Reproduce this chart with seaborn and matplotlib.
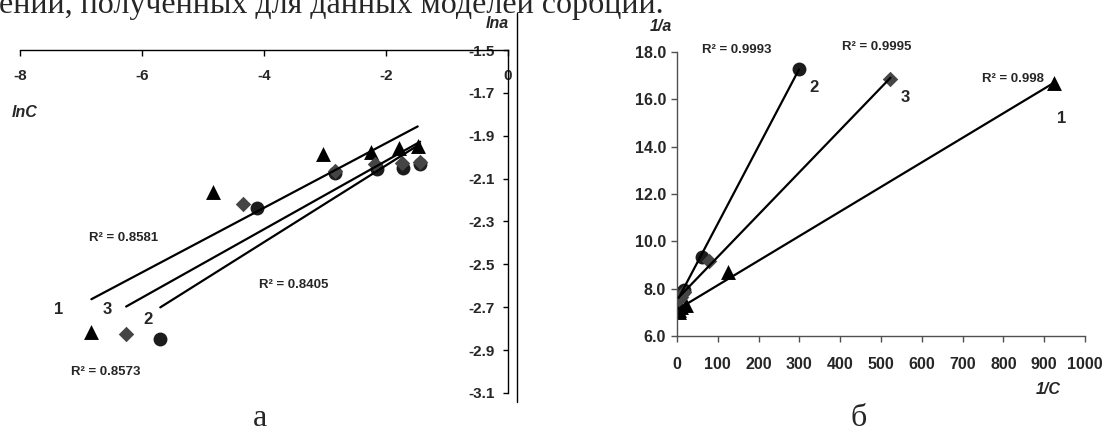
import numpy as np
import pandas as pd
import matplotlib
matplotlib.use("Agg")
import matplotlib.pyplot as plt
from matplotlib.lines import Line2D
import seaborn as sns

# Sorption data for three sorbents (series 1, 2, 3): ln C and ln a
series_ids = ["1", "2", "3"]
ln_c_s1 = [-6.83, -4.83, -3.04, -2.24, -1.79, -1.48]
ln_a_s1 = [-2.814, -2.162, -1.987, -1.975, -1.959, -1.949]
ln_c_s2 = [-5.70, -4.12, -2.84, -2.14, -1.72, -1.44]
ln_a_s2 = [-2.850, -2.236, -2.074, -2.055, -2.050, -2.032]
ln_c_s3 = [-6.26, -4.35, -2.84, -2.18, -1.74, -1.44]
ln_a_s3 = [-2.826, -2.218, -2.064, -2.032, -2.027, -2.022]

# Coefficients of determination of the trend lines
r2_freundlich = {"1": "0.8581", "2": "0.8405", "3": "0.8573"}
r2_langmuir = {"1": "0.998", "2": "0.9993", "3": "0.9995"}

# Axis ticks
left_xticks = [-8, -6, -4, -2, 0]
left_yticks = [-1.5, -1.7, -1.9, -2.1, -2.3, -2.5, -2.7, -2.9, -3.1]
right_xticks = [0, 100, 200, 300, 400, 500, 600, 700, 800, 900, 1000]
right_yticks = [6.0, 8.0, 10.0, 12.0, 14.0, 16.0, 18.0]

header_text = "ений, полученных для данных моделей сорбции."

frames = []
for sid, lc, la in zip(series_ids, [ln_c_s1, ln_c_s2, ln_c_s3],
                       [ln_a_s1, ln_a_s2, ln_a_s3]):
    frames.append(pd.DataFrame({"series": sid, "lnC": lc, "lna": la}))
df = pd.concat(frames, ignore_index=True)
df["invC"] = np.exp(-df["lnC"])
df["inva"] = np.exp(-df["lna"])

style = {
    "1": dict(marker="^", color="#000000", s=115),
    "2": dict(marker="o", color="#1c1c1c", s=100),
    "3": dict(marker="D", color="#454545", s=62),
}

sns.set_theme(style="white")
plt.rcParams["font.family"] = ["Liberation Sans", "DejaVu Sans"]
plt.rcParams["font.weight"] = "bold"

fig = plt.figure(figsize=(11.04, 4.30), dpi=100)
W, H = 1104.0, 430.0

ax_l = fig.add_axes([20 / W, (H - 393) / H, 488 / W, 343 / H])
ax_r = fig.add_axes([677 / W, (H - 336) / H, 408 / W, 284 / H])

tick_font = dict(fontsize=11.5, fontweight="bold")
note_font = dict(fontsize=9.5, fontweight="bold", ha="center", va="center")
num_font = dict(fontsize=12, fontweight="bold", ha="center", va="center")
title_font = dict(fontsize=11.5, fontweight="bold", style="italic")


def draw_panel(ax, xcol, ycol):
    for sid in series_ids:
        sub = df[df["series"] == sid]
        st = style[sid]
        sns.scatterplot(data=sub, x=xcol, y=ycol, marker=st["marker"],
                        color=st["color"], s=st["s"], linewidth=0,
                        ax=ax, zorder=2, legend=False)
        sns.regplot(data=sub, x=xcol, y=ycol, scatter=False, ci=None,
                    truncate=True, color="black",
                    line_kws=dict(lw=1.6, zorder=3), ax=ax)
    ax.set_xlabel("")
    ax.set_ylabel("")


# ---- panel a: ln a vs ln C ----
draw_panel(ax_l, "lnC", "lna")
ax_l.set_xlim(-8, 0)
ax_l.set_ylim(-3.1, -1.5)
ax_l.set_xticks(left_xticks)
ax_l.set_yticks(left_yticks)
ax_l.set_xticklabels([f"{v:d}" for v in left_xticks], **tick_font)
ax_l.set_yticklabels([f"{v:.1f}" for v in left_yticks], **tick_font)
ax_l.spines["bottom"].set_position(("data", -1.5))
ax_l.spines["left"].set_position(("data", 0))
ax_l.spines["top"].set_visible(False)
ax_l.spines["right"].set_visible(False)
for sp in ("bottom", "left"):
    ax_l.spines[sp].set_color("black")
    ax_l.spines[sp].set_linewidth(1.0)
ax_l.tick_params(axis="x", direction="out", length=4, width=1, color="black",
                 pad=10, bottom=True)
ax_l.tick_params(axis="y", direction="out", length=3.5, width=1, color="black",
                 pad=6, left=True)
ax_l.patch.set_alpha(0)

ax_l.text(-7.92, -1.792, "lnC", ha="center", va="center", **title_font)
ax_l.text(-6.30, -2.378, f"R² = {r2_freundlich['1']}", **note_font)
ax_l.text(-3.52, -2.596, f"R² = {r2_freundlich['2']}", **note_font)
ax_l.text(-6.60, -3.00, f"R² = {r2_freundlich['3']}", **note_font)
ax_l.text(-7.36, -2.709, "1", **num_font)
ax_l.text(-6.57, -2.709, "3", **num_font)
ax_l.text(-5.90, -2.756, "2", **num_font)
fig.text(509 / W, (H - 24) / H, "lna", ha="right", va="center", **title_font)

# ---- panel b: 1/a vs 1/C ----
draw_panel(ax_r, "invC", "inva")
ax_r.set_xlim(0, 1000)
ax_r.set_ylim(6, 18)
ax_r.set_xticks(right_xticks)
ax_r.set_yticks(right_yticks)
ax_r.set_xticklabels([f"{v:d}" for v in right_xticks], **tick_font)
ax_r.set_yticklabels([f"{v:.1f}" for v in right_yticks], **tick_font)
ax_r.spines["top"].set_visible(False)
ax_r.spines["right"].set_visible(False)
for sp in ("bottom", "left"):
    ax_r.spines[sp].set_color("#505050")
    ax_r.spines[sp].set_linewidth(1.0)
ax_r.tick_params(axis="both", direction="out", length=4, width=1,
                 color="#505050", bottom=True, left=True)
ax_r.tick_params(axis="x", pad=11)
ax_r.tick_params(axis="y", pad=4)
ax_r.patch.set_alpha(0)

ax_r.text(-40, 19.07, "1/a", ha="center", va="center", clip_on=False,
          **title_font)
ax_r.text(909, 3.72, "1/C", ha="center", va="center", clip_on=False,
          **title_font)
ax_r.text(147, 18.08, f"R² = {r2_langmuir['2']}", clip_on=False, **note_font)
ax_r.text(489, 18.22, f"R² = {r2_langmuir['3']}", clip_on=False, **note_font)
ax_r.text(824, 16.86, f"R² = {r2_langmuir['1']}", clip_on=False, **note_font)
ax_r.text(335, 16.51, "2", clip_on=False, **num_font)
ax_r.text(560, 16.08, "3", clip_on=False, **num_font)
ax_r.text(943, 15.20, "1", clip_on=False, **num_font)

# frame line between the panels
fig.add_artist(Line2D([517 / W, 517 / W], [(H - 13) / H, (H - 402) / H],
                      transform=fig.transFigure, color="black", lw=1.0))

# surrounding document text and panel captions
serif = ["Liberation Serif", "DejaVu Serif"]
fig.text(-1 / W, (H - 13) / H, header_text, family=serif, fontsize=23,
         fontweight="normal", ha="left", va="baseline")
fig.text(260 / W, (H - 426) / H, "а", family=serif, fontsize=23,
         fontweight="normal", ha="center", va="baseline")
fig.text(859 / W, (H - 426) / H, "б", family=serif, fontsize=23,
         fontweight="normal", ha="center", va="baseline")

fig.savefig("out.png", dpi=100, facecolor="white")
